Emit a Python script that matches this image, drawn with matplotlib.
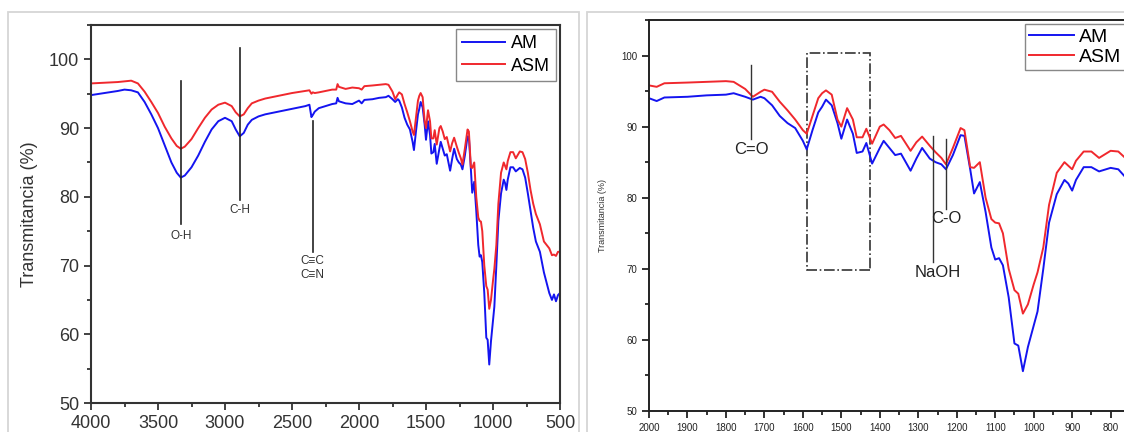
import numpy as np
import matplotlib
matplotlib.use('Agg')
import matplotlib.pyplot as plt
from matplotlib.patches import Rectangle
from matplotlib.ticker import MultipleLocator

plt.rcParams['font.family'] = ['Liberation Sans', 'DejaVu Sans']

# numero de onda (cm-1)
wn = [4000, 3900, 3800, 3750, 3700, 3650, 3600, 3550, 3500, 3450,
      3400, 3360, 3330, 3300, 3250, 3200, 3150, 3100, 3050, 3000,
      2950, 2920, 2890, 2860, 2830, 2800, 2750, 2700, 2600, 2500,
      2400, 2370, 2355, 2345, 2330, 2300, 2250, 2200, 2170, 2160,
      2150, 2100, 2050, 2000, 1980, 1960, 1900, 1850, 1800, 1780,
      1750, 1730, 1710, 1700, 1680, 1660, 1640, 1620, 1600, 1590,
      1575, 1560, 1550, 1540, 1525, 1510, 1500, 1485, 1470, 1460,
      1445, 1435, 1420, 1400, 1390, 1375, 1360, 1345, 1320, 1305,
      1290, 1270, 1255, 1240, 1228, 1210, 1190, 1180, 1165, 1155,
      1140, 1125, 1110, 1100, 1090, 1080, 1065, 1050, 1040, 1028,
      1015, 1000, 990, 975, 960, 940, 920, 910, 900, 890,
      870, 850, 830, 800, 780, 760, 740, 720, 700, 680,
      650, 620, 600, 580, 560, 545, 530, 515, 500]

am = [94.8, 95.1, 95.4, 95.6, 95.5, 95.2, 93.8, 92.0, 90.0, 87.5,
      85.0, 83.5, 82.8, 83.1, 84.3, 86.0, 88.0, 89.8, 91.0, 91.5,
      91.0, 89.8, 88.8, 89.3, 90.5, 91.2, 91.7, 92.0, 92.4, 92.8,
      93.2, 93.4, 91.6, 91.9, 92.4, 92.9, 93.2, 93.5, 93.6, 94.4,
      93.9, 93.6, 93.5, 94.0, 93.6, 94.1, 94.2, 94.4, 94.5, 94.7,
      94.2, 93.8, 94.2, 94.0, 93.0, 91.5, 90.5, 89.8, 88.0, 86.8,
      89.5, 92.0, 92.8, 93.8, 93.0, 90.5, 88.3, 91.0, 89.0, 86.3,
      86.5, 87.7, 84.8, 87.0, 88.0, 87.0, 86.0, 86.2, 83.8, 85.5,
      87.0, 85.5, 85.0, 84.7, 84.0, 86.0, 88.8, 88.7, 84.0, 80.6,
      82.2, 78.0, 73.0, 71.3, 71.5, 70.5, 66.0, 59.5, 59.2, 55.6,
      59.0, 62.0, 64.0, 70.0, 76.5, 80.5, 82.5, 82.0, 81.0, 82.5,
      84.3, 84.3, 83.7, 84.2, 84.0, 82.8, 80.5, 78.0, 75.5, 73.5,
      72.0, 69.0, 67.5, 66.0, 65.0, 65.8, 64.8, 65.7, 66.0]

asm = [96.5, 96.6, 96.7, 96.8, 96.9, 96.5, 95.3, 93.8, 92.2, 90.2,
       88.5, 87.4, 87.0, 87.3, 88.4, 90.0, 91.5, 92.7, 93.4, 93.7,
       93.2, 92.3, 91.7, 92.0, 92.9, 93.6, 94.0, 94.3, 94.7, 95.1,
       95.4, 95.5, 95.0, 95.2, 95.1, 95.2, 95.4, 95.6, 95.6, 96.4,
       96.0, 95.7, 95.9, 95.8, 95.6, 96.1, 96.2, 96.3, 96.4, 96.3,
       95.3, 94.2, 94.9, 95.2, 94.9, 93.5, 92.3, 91.0, 89.5, 89.0,
       91.5, 94.0, 94.7, 95.1, 94.5, 91.0, 90.0, 92.6, 91.0, 88.5,
       88.5, 89.7, 87.6, 90.0, 90.3, 89.5, 88.4, 88.7, 86.6, 87.8,
       88.6, 87.3, 86.4, 85.6, 84.7, 87.0, 89.8, 89.5, 84.3, 84.2,
       85.0, 80.0, 77.0, 76.5, 76.4, 75.0, 70.0, 67.0, 66.5, 63.7,
       65.0, 67.8, 69.5, 73.0, 79.0, 83.5, 85.0, 84.5, 84.0, 85.2,
       86.5, 86.5, 85.6, 86.6, 86.5, 85.5, 83.5, 81.0, 79.0, 77.5,
       76.0, 73.5, 73.0, 72.5, 71.5, 71.6, 71.4, 72.0, 72.0]

c_am = '#1414f0'
c_asm = '#f0282d'
W, H = 1124, 432

fig = plt.figure(figsize=(W / 100, H / 100), dpi=100)

# marcos grises de cada panel
fig.patches.append(Rectangle((8 / W, -0.05), (579 - 8) / W, 1.05 - 12 / H, transform=fig.transFigure,
                             fill=False, edgecolor='#d6d6d6', lw=1.3))
fig.patches.append(Rectangle((587 / W, -0.05), 0.5, 1.05 - 12 / H, transform=fig.transFigure,
                             fill=False, edgecolor='#d6d6d6', lw=1.3))

# panel izquierdo
ax1 = fig.add_axes([91 / W, (H - 403) / H, (560 - 91) / W, (403 - 25) / H])
ax1.plot(wn, am, color=c_am, lw=1.4, label='AM')
ax1.plot(wn, asm, color=c_asm, lw=1.4, label='ASM')
ax1.set_xlim(4000, 500)
ax1.set_ylim(50, 105)
ax1.xaxis.set_major_locator(MultipleLocator(500))
ax1.xaxis.set_minor_locator(MultipleLocator(250))
ax1.yaxis.set_major_locator(MultipleLocator(10))
ax1.yaxis.set_minor_locator(MultipleLocator(5))
ax1.tick_params(which='both', direction='out', colors='#333333', labelsize=13, width=1.3)
ax1.tick_params(which='major', length=5)
ax1.tick_params(which='minor', length=3)
for s in ax1.spines.values():
    s.set_linewidth(1.5)
    s.set_color('#333333')
ax1.set_ylabel('Transmitancia (%)', fontsize=13, color='#333333', labelpad=8)

ax1.plot([3330, 3330], [96.9, 76.0], color='#222222', lw=1.2)
ax1.text(3330, 75.2, 'O-H', ha='center', va='top', fontsize=8.5, color='#333333')
ax1.plot([2890, 2890], [101.6, 79.6], color='#222222', lw=1.2)
ax1.text(2890, 78.9, 'C-H', ha='center', va='top', fontsize=8.5, color='#333333')
ax1.plot([2345, 2345], [91.0, 72.0], color='#222222', lw=1.2)
ax1.text(2345, 71.5, 'C≡C\nC≡N', ha='center', va='top', fontsize=8.5, color='#333333',
         linespacing=1.2)

ax1.legend(loc='upper right', bbox_to_anchor=(556 / W, 1 - 29 / H), bbox_transform=fig.transFigure,
           borderaxespad=0, fancybox=False, edgecolor='#888888', framealpha=1, fontsize=13,
           handlelength=2.4, handletextpad=0.3, borderpad=0.35, labelspacing=0.3)

# panel derecho (ampliacion 2000-800)
ax2 = fig.add_axes([649 / W, (H - 411) / H, (1126 - 649) / W, (411 - 20) / H])
ax2.plot(wn, am, color=c_am, lw=1.4, label='AM')
ax2.plot(wn, asm, color=c_asm, lw=1.4, label='ASM')
ax2.set_xlim(2000, 760)
ax2.set_ylim(50, 105)
ax2.xaxis.set_major_locator(MultipleLocator(100))
ax2.xaxis.set_minor_locator(MultipleLocator(50))
ax2.yaxis.set_major_locator(MultipleLocator(10))
ax2.yaxis.set_minor_locator(MultipleLocator(5))
ax2.tick_params(which='both', direction='out', colors='#222222', labelsize=7, width=1.3)
ax2.tick_params(which='major', length=5)
ax2.tick_params(which='minor', length=3)
for s in ax2.spines.values():
    s.set_linewidth(1.4)
    s.set_color('#222222')
ax2.set_ylabel('Transmitancia (%)', fontsize=6.5, color='#333333', labelpad=10)

ax2.plot([1735, 1735], [98.6, 88.3], color='#333333', lw=1.0)
ax2.text(1735, 87.8, 'C=O', ha='center', va='top', fontsize=12, color='#222222')
ax2.plot([1262, 1262], [88.7, 71.0], color='#333333', lw=1.0)
ax2.text(1250, 70.6, 'NaOH', ha='center', va='top', fontsize=12, color='#222222')
ax2.plot([1228, 1228], [88.3, 78.4], color='#333333', lw=1.0)
ax2.text(1226, 78.2, 'C-O', ha='center', va='top', fontsize=12, color='#222222')
ax2.add_patch(Rectangle((1425, 69.9), 165, 30.4, fill=False, edgecolor='#333333',
                        lw=1.2, linestyle='-.'))

ax2.legend(loc='upper left', bbox_to_anchor=(1025 / W, 1 - 24 / H), bbox_transform=fig.transFigure,
           borderaxespad=0, fancybox=False, edgecolor='#888888', framealpha=1, fontsize=14,
           handlelength=2.3, handletextpad=0.3, borderpad=0.2, labelspacing=0.15)

plt.savefig('out.png', dpi=100)
